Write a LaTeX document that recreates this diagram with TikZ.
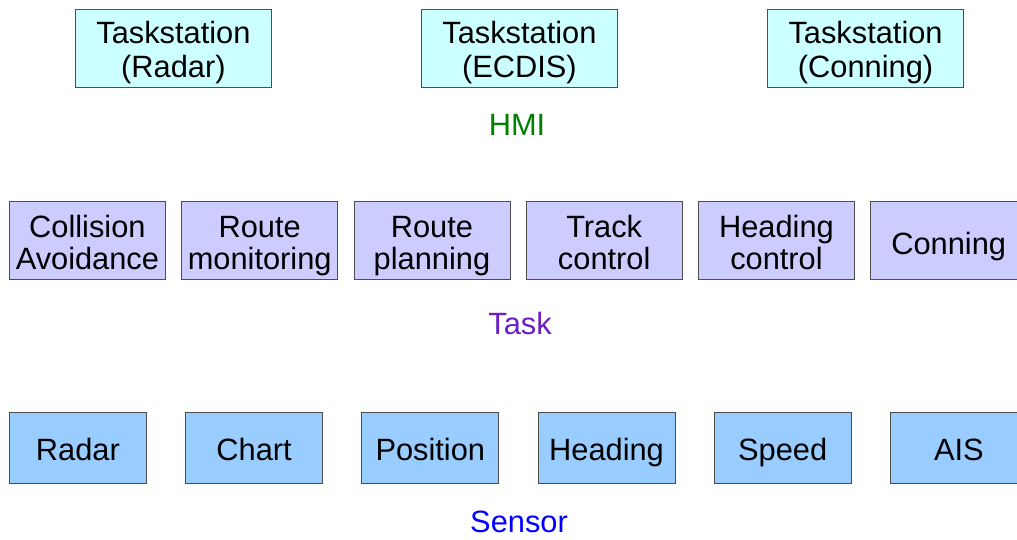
\documentclass[tikz,border=0pt]{standalone}
\usepackage{fontspec}
\setmainfont{Liberation Sans}
\usepackage{tikz}
\usetikzlibrary{positioning}
\definecolor{HmiFill}{HTML}{CCFFFF}
\definecolor{TaskFill}{HTML}{CCCCFF}
\definecolor{SensorFill}{HTML}{99CCFF}
\definecolor{EdgeGray}{HTML}{4D4D4D}
\definecolor{HmiGreen}{HTML}{008000}
\definecolor{TaskPurple}{HTML}{6A1FC2}
\definecolor{SensorBlue}{HTML}{0000FF}
\newcommand{\layerfont}{\fontsize{23.1}{25.5}\selectfont}
\newcommand{\taskfont}{\fontsize{23.1}{24}\selectfont}

\begin{document}
\begin{tikzpicture}[
  x=0.75pt, y=-0.75pt,
  layerbox/.style={rectangle, draw=EdgeGray, line width=0.6pt, inner sep=0pt,
    font=\layerfont, align=center},
  % fixed text boxes so every label sits at the same height
  station/.style={layerbox, fill=HmiFill, text height=46pt, text depth=1.8pt,
    minimum width=147pt, minimum height=58.5pt},
  taskbox/.style={layerbox, fill=TaskFill, font=\taskfont,
    text height=46pt, text depth=1.8pt,
    minimum width=117pt, minimum height=58.5pt},
  oneline/.style={text height=22pt, text depth=1pt},
  sensorbox/.style={layerbox, fill=SensorFill, text height=21pt, text depth=2.2pt,
    minimum width=102.75pt, minimum height=53.25pt},
  layer/.style={font=\layerfont},
  node distance=11.6pt
]
\clip (0,0) rectangle (1017,539);

%% HMI layer -- task stations
\node[station, anchor=north west] (tsradar) at (75,9) {Taskstation\\(Radar)};
\node[station, right=259.5pt of tsradar.west, anchor=west] (tsecdis) {Taskstation\\(ECDIS)};
\node[station, right=112pt of tsecdis] (tsconning) {Taskstation\\(Conning)};
\node[layer, text=HmiGreen] (hmi) at (517,125) {HMI};

%% Task layer
\node[taskbox, anchor=north west] (collision) at (9,201) {Collision\\Avoidance};
\node[taskbox, right=of collision] (routemon)  {Route\\monitoring};
\node[taskbox, right=of routemon]  (routeplan) {Route\\planning};
\node[taskbox, right=of routeplan] (trackctl)  {Track\\control};
\node[taskbox, right=of trackctl]  (headctl)   {Heading\\control};
\node[taskbox, oneline, right=of headctl] (conning) {Conning};
\node[layer, text=TaskPurple] (task) at (520,323) {Task};

%% Sensor layer
\node[sensorbox, anchor=north west] (radar) at (9,412) {Radar};
\node[sensorbox, right=28.8pt of radar]    (chart)    {Chart};
\node[sensorbox, right=28.8pt of chart]    (position) {Position};
\node[sensorbox, right=28.8pt of position] (heading)  {Heading};
\node[sensorbox, right=28.8pt of heading]  (speed)    {Speed};
\node[sensorbox, right=28.8pt of speed]    (ais)      {AIS};
\node[layer, text=SensorBlue] (sensor) at (519,522) {Sensor};

\end{tikzpicture}
\end{document}
